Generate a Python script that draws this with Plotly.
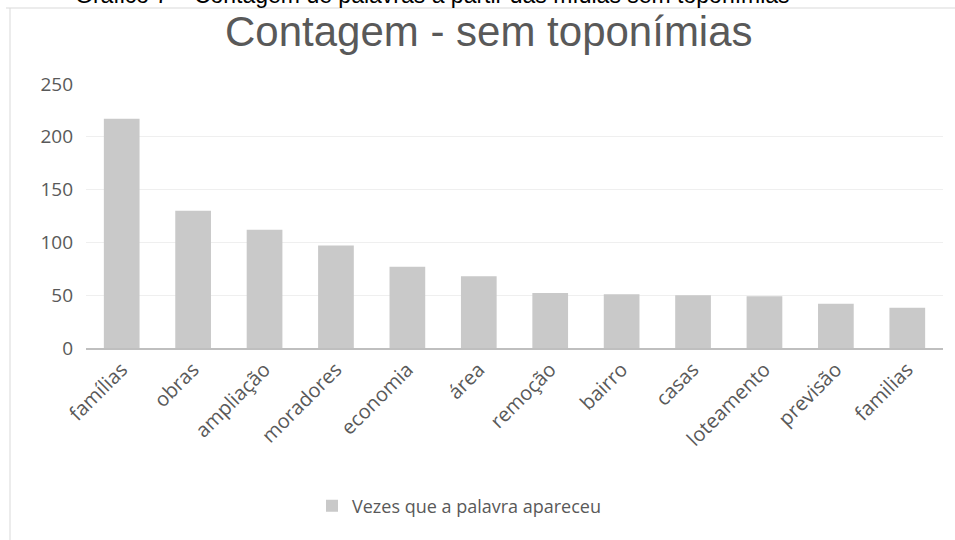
import plotly.graph_objects as go

categories = ["famílias", "obras", "ampliação", "moradores", "economia", "área",
              "remoção", "bairro", "casas", "loteamento", "previsão", "familias"]
values = [217, 130, 112, 97, 77, 68, 52, 51, 50, 49, 42, 38]
series_name = "Vezes que a palavra apareceu"
y_ticks = [0, 50, 100, 150, 200, 250]
chart_title = "Contagem - sem toponímias"
caption = "Gráfico 7 – Contagem de palavras a partir das mídias sem toponímias"

W, H = 955, 540
L, R, T, B = 86, 12, 84, 192
plot_w = W - L - R
plot_h = H - T - B


def px_x(x):
    return (x - L) / plot_w


def px_y(y):
    return (H - B - y) / plot_h


GRAY_TXT = "#595959"
FONT = "Open Sans, DejaVu Sans, sans-serif"

fig = go.Figure()
fig.add_trace(go.Bar(
    x=categories, y=values, name=series_name,
    marker=dict(color="#c9c9c9", line=dict(width=0)),
    showlegend=True,
))

fig.update_layout(
    width=W, height=H,
    margin=dict(l=L, r=R, t=T, b=B, autoexpand=False),
    paper_bgcolor="white", plot_bgcolor="white",
    bargap=0.5,
    font=dict(family=FONT, color=GRAY_TXT),
    showlegend=True,
    legend=dict(orientation="h", x=px_x(459), xanchor="center",
                y=px_y(506), yanchor="middle",
                font=dict(size=18, color=GRAY_TXT, family=FONT),
                bgcolor="rgba(0,0,0,0)"),
    xaxis=dict(tickangle=-45, tickfont=dict(size=20, color=GRAY_TXT, family=FONT),
               showline=True, linecolor="#bfbfbf", linewidth=2,
               showgrid=False, ticks="", fixedrange=True),
    yaxis=dict(range=[0, 250], tickvals=y_ticks, ticktext=[str(v) for v in y_ticks],
               tickfont=dict(size=19, color=GRAY_TXT, family=FONT),
               showgrid=True, gridcolor="#efefef", gridwidth=1,
               zeroline=False, showline=False, ticks="",
               ticklabelstandoff=12, fixedrange=True),
    annotations=[
        dict(text=chart_title, xref="paper", yref="paper",
             x=px_x(489), y=px_y(32), xanchor="center", yanchor="middle",
             showarrow=False,
             font=dict(size=42, color=GRAY_TXT, family="Liberation Sans, Arial, sans-serif")),
        dict(text=caption, xref="paper", yref="paper",
             x=px_x(432), y=px_y(-5), xanchor="center", yanchor="middle",
             showarrow=False,
             font=dict(size=23, color="black", family="Liberation Sans, Arial, sans-serif")),
    ],
    shapes=[
        dict(type="line", xref="paper", yref="paper",
             x0=px_x(10), x1=px_x(10), y0=px_y(8), y1=px_y(545),
             line=dict(color="#d9d9d9", width=1)),
        dict(type="line", xref="paper", yref="paper",
             x0=px_x(6), x1=px_x(960), y0=px_y(8), y1=px_y(8),
             line=dict(color="#d9d9d9", width=1)),
    ],
)

fig.write_html("out.html")
